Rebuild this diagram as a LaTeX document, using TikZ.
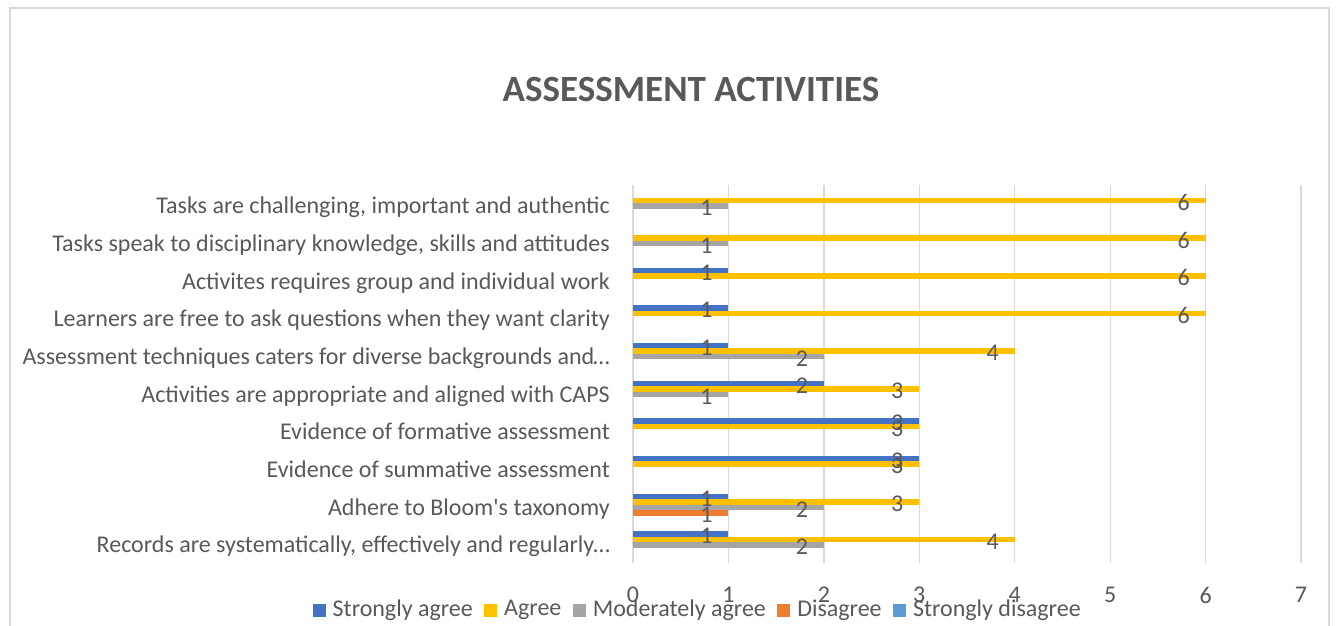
\documentclass[tikz,border=0pt]{standalone}
\usepackage{fontspec}
\setmainfont{Carlito}[Ligatures=TeXOff]
\definecolor{txt}{HTML}{595959}
\definecolor{gridc}{HTML}{D9D9D9}
\definecolor{ser1}{HTML}{4472C4}
\definecolor{ser2}{HTML}{FFC000}
\definecolor{ser3}{HTML}{A5A5A5}
\definecolor{ser4}{HTML}{ED7D31}
\definecolor{ser5}{HTML}{5B9BD5}
\tikzset{
  frame/.style={draw=gridc,line width=1.5pt},
  gridline/.style={draw=gridc,line width=1.3pt},
  ticklab/.style={text=txt,font=\fontsize{24}{28}\selectfont,inner sep=0pt},
  catlab/.style={text=txt,font=\fontsize{24}{28}\selectfont,inner sep=0pt,anchor=base east},
  datalab/.style={text=txt,font=\fontsize{24}{28}\selectfont,inner sep=0pt},
  legsq/.style={minimum size=13pt,inner sep=0pt,outer sep=0pt},
  legtxt/.style={text=txt,font=\fontsize{24}{28}\selectfont,inner sep=0pt,anchor=west},
  charttitle/.style={text=txt,font=\fontsize{37}{42}\selectfont\bfseries,inner sep=0pt,anchor=base}
}
\begin{document}
\begin{tikzpicture}[x=1pt,y=-1pt]
\useasboundingbox (0,0) rectangle (1336,626);
\fill[white] (0,0) rectangle (1336,626);
\draw[frame] (10,8) rectangle (1329,680);
\node[charttitle] (title) at (691,101) {ASSESSMENT ACTIVITIES};
% grid
\foreach \k in {0,...,7}{
  \draw[gridline] (633+95.43*\k,185) -- (633+95.43*\k,563);
  \node[ticklab] (tick\k) at (633+95.43*\k,595) {\k};
}
% category labels
\foreach \r/\t in {1/{Tasks are challenging, important and authentic},
  2/{Tasks speak to disciplinary knowledge, skills and attitudes},
  3/{Activites requires group and individual work},
  4/{Learners are free to ask questions when they want clarity},
  5/{Assessment techniques caters for diverse backgrounds and\kern-1pt…},
  6/{Activities are appropriate and aligned with CAPS},
  7/{Evidence of formative assessment},
  8/{Evidence of summative assessment},
  9/{Adhere to Bloom's taxonomy},
  10/{Records are systematically, effectively and regularly\kern-1pt…}}{
  \node[catlab] (cat\r) at (610,{206+(\r-1)*37.67+7.7}) {\t};
}
% bars
\def\datalist{1/2/6, 1/3/1, 2/2/6, 2/3/1, 3/1/1, 3/2/6, 4/1/1, 4/2/6, 5/1/1, 5/2/4, 5/3/2, 6/1/2, 6/2/3, 6/3/1, 7/1/3, 7/2/3, 8/1/3, 8/2/3, 9/1/1, 9/2/3, 9/3/2, 9/4/1, 10/1/1, 10/2/4, 10/3/2}
\foreach \r/\s/\v in \datalist{
  \pgfmathsetmacro{\yc}{206+(\r-1)*37.67+(\s-3)*5.5}
  \fill[ser\s] (633,\yc-2.7) rectangle (633+95.43*\v,\yc+2.7);
}
\foreach \r/\s/\v in \datalist{
  \pgfmathsetmacro{\yc}{206+(\r-1)*37.67+(\s-3)*5.5}
  \node[datalab] (val\r-\s) at (633+95.43*\v-22,\yc+2) {\v};
}
% legend
\node[legsq,fill=ser1] (sq1) at (319,610) {};
\node[legtxt] (lt1) at ([xshift=7pt]sq1.east) {Strongly agree};
\node[legsq,fill=ser2,anchor=west] (sq2) at ([xshift=11pt]lt1.east) {};
\node[legtxt] (lt2) at ([xshift=7pt]sq2.east) {Agree};
\node[legsq,fill=ser3,anchor=west] (sq3) at ([xshift=11pt]lt2.east) {};
\node[legtxt] (lt3) at ([xshift=7pt]sq3.east) {Moderately agree};
\node[legsq,fill=ser4,anchor=west] (sq4) at ([xshift=11pt]lt3.east) {};
\node[legtxt] (lt4) at ([xshift=7pt]sq4.east) {Disagree};
\node[legsq,fill=ser5,anchor=west] (sq5) at ([xshift=11pt]lt4.east) {};
\node[legtxt] (lt5) at ([xshift=7pt]sq5.east) {Strongly disagree};
\end{tikzpicture}
\end{document}
